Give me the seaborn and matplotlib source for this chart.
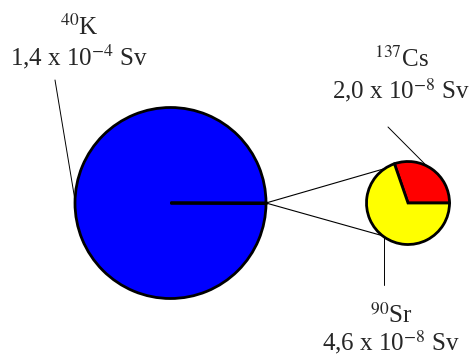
import numpy as np
import matplotlib
matplotlib.use('Agg')
import matplotlib.pyplot as plt
import seaborn as sns

# ---- data ----
nuclides = ['K', 'Cs', 'Sr']
mass_numbers = [40, 137, 90]
doses = [1.4e-4, 2.0e-8, 4.6e-8]   # Sv
colors = ['#0000ff', '#ff0000', '#ffff00']

sns.set_style('white')
plt.rcParams['font.family'] = ['Liberation Serif', 'DejaVu Serif']
plt.rcParams['mathtext.fontset'] = 'stix'


def dose_label(d):
    e = int(np.floor(np.log10(d)))
    m = f"{d / 10**e:.1f}".replace('.', ',')
    return f"{m} x 10$^{{{e}}}$ Sv"


def on_circle(c, r, ang):
    a = np.deg2rad(ang)
    return c[0] + r * np.cos(a), c[1] + r * np.sin(a)


fig = plt.figure(figsize=(4.72, 3.56), dpi=100)
ax = fig.add_axes([0, 0, 1, 1])

big_c, big_r = (170.5, 153.0), 95.5
small_c, small_r = (408.0, 153.0), 41.5
edge = dict(edgecolor='black', linewidth=2.0)

# big pie: K plus a sliver for Cs+Sr
rest = doses[1] + doses[2]
ax.pie([rest, doses[0]], colors=['#0000ff', colors[0]], startangle=0,
       counterclock=False, radius=big_r, center=big_c, wedgeprops=edge)

# small pie: Cs vs Sr
ax.pie([doses[1], doses[2]], colors=colors[1:], startangle=0,
       counterclock=True, radius=small_r, center=small_c, wedgeprops=edge)

# connection lines from the sliver to the small pie
p0 = on_circle(big_c, big_r, 0)
for ang in (124, 232):
    p1 = on_circle(small_c, small_r, ang)
    ax.plot([p0[0], p1[0]], [p0[1], p1[1]], color='black', lw=0.8, zorder=0)

# leader lines to the labels
k0 = on_circle(big_c, big_r, 178.5)
ax.plot([k0[0], 55], [k0[1], 276], color='black', lw=0.7)
c0 = on_circle(small_c, small_r, 63)
ax.plot([c0[0], 388], [c0[1], 229], color='black', lw=0.7)
s0 = on_circle(small_c, small_r, 234)
ax.plot([s0[0], s0[0]], [s0[1], 71], color='black', lw=0.7)

# labels
label_pos = [(79, 321, 291), (401.5, 289.3, 258), (391, 33, None)]
for name, a, d, (x, y1, y2) in zip(nuclides, mass_numbers, doses, label_pos):
    ax.text(x, y1, f"$^{{{a}}}$" + name, ha='center', va='baseline', fontsize=18)
    if y2 is None:
        ax.text(x, 0.5, dose_label(d), ha='center', va='bottom', fontsize=18)
    else:
        ax.text(x, y2, dose_label(d), ha='center', va='baseline', fontsize=18)

ax.set_xlim(0, 472)
ax.set_ylim(0, 356)
ax.set_aspect('equal')
ax.axis('off')

fig.savefig('out.png', dpi=100)
